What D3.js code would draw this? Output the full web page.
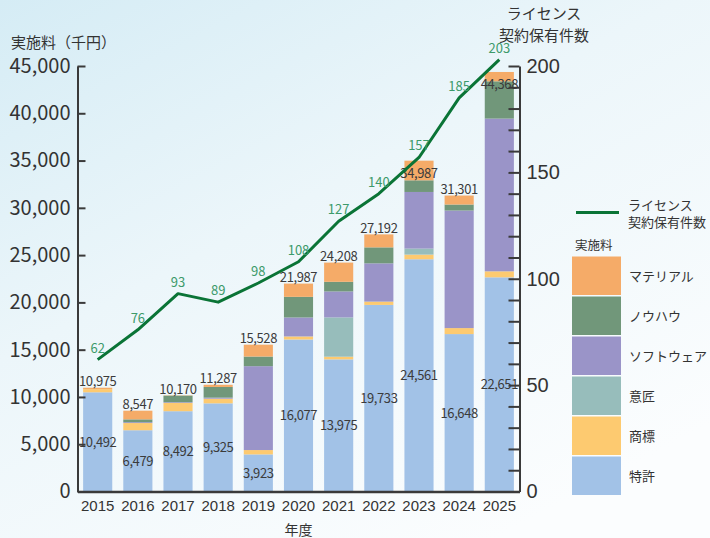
<!DOCTYPE html>
<html>
<head>
<meta charset="utf-8">
<script src="https://cdn.jsdelivr.net/npm/d3@7"></script>
<style>
  body { margin: 0; }
  svg { display: block; font-family: "Noto Sans CJK JP", "Noto Sans", sans-serif; }
</style>
</head>
<body>
<svg id="Chart"></svg>
<script>
const years = ["2015", "2016", "2017", "2018", "2019", "2020", "2021", "2022", "2023", "2024", "2025"];
const patent    = [10492, 6479, 8492, 9325, 3923, 16077, 13975, 19733, 24561, 16648, 22651];
const trademark = [330, 760, 880, 490, 460, 320, 280, 350, 493, 634, 634];
const design    = [0, 0, 0, 0, 0, 0, 4155, 0, 634, 0, 0];
const software  = [0, 90, 70, 110, 8870, 2007, 2746, 4046, 5990, 12434, 16153];
const knowhow   = [0, 300, 700, 1130, 1020, 2183, 1021, 1690, 1232, 634, 3944];
const material  = [153, 918, 28, 232, 1255, 1400, 2031, 1373, 2077, 951, 986];
const totals    = [10975, 8547, 10170, 11287, 15528, 21987, 24208, 27192, 34987, 31301, 44368];
const licenses  = [62, 76, 93, 89, 98, 108, 127, 140, 157, 185, 203];

const seriesNames = ["特許", "商標", "意匠", "ソフトウェア", "ノウハウ", "マテリアル"];
const seriesColors = ["#a2c2e7", "#fdca70", "#97bdbb", "#9a94c8", "#71977a", "#f5ab68"];
const leftTicks = [0, 5000, 10000, 15000, 20000, 25000, 30000, 35000, 40000, 45000];
const rightTicks = [0, 50, 100, 150, 200];

let store = {};

function getConfig() {
  let width = 710, height = 538;
  let left = 77.5, right = 519.5, top = 66, bottom = 491.5;
  let container = d3.select("#Chart").attr("width", width).attr("height", height);
  return { width, height, left, right, top, bottom, container };
}

function getScales(config) {
  let { left, right, top, bottom } = config;
  let xScale = d3.scaleBand().domain(years).range([left, right])
    .paddingInner(0.275).paddingOuter(0.14);
  let yScale = d3.scaleLinear().domain([0, 45000]).range([bottom, top]);
  let yRight = d3.scaleLinear().domain([0, 200]).range([bottom, top]);
  return { xScale, yScale, yRight };
}

function drawBackground(config) {
  let { container, width, height } = config;
  let grad = container.append("defs").append("linearGradient")
    .attr("id", "bg").attr("x1", 0).attr("y1", 0).attr("x2", 0.7).attr("y2", 1);
  grad.append("stop").attr("offset", 0).attr("stop-color", "#d5ecf5");
  grad.append("stop").attr("offset", 0.45).attr("stop-color", "#ecf6fa");
  grad.append("stop").attr("offset", 1).attr("stop-color", "#fbfdfe");
  container.append("rect").attr("width", width).attr("height", height).attr("fill", "url(#bg)");
}

function drawBars(scales, config) {
  let { xScale, yScale } = scales;
  let { container } = config;
  let rows = years.map((y, i) => ({
    year: y, 特許: patent[i], 商標: trademark[i], 意匠: design[i],
    ソフトウェア: software[i], ノウハウ: knowhow[i], マテリアル: material[i]
  }));
  let stacked = d3.stack().keys(seriesNames)(rows);

  let body = container.append("g");
  body.selectAll("g.series").data(stacked).enter()
    .append("g").attr("fill", (d, i) => seriesColors[i])
    .selectAll("rect").data(d => d).enter()
    .append("rect")
    .attr("x", d => xScale(d.data.year))
    .attr("width", xScale.bandwidth())
    .attr("y", d => yScale(d[1]))
    .attr("height", d => yScale(d[0]) - yScale(d[1]));

  // patent values inside the blue part
  body.selectAll(".plabel").data(years).enter()
    .append("text")
    .attr("x", d => xScale(d) + xScale.bandwidth() / 2)
    .attr("y", (d, i) => (yScale(0) + yScale(patent[i])) / 2 + 5)
    .attr("text-anchor", "middle")
    .attr("font-size", 13).attr("letter-spacing", -0.4)
    .attr("fill", "#3b3b3b")
    .text((d, i) => d3.format(",")(patent[i]));
}

function drawTotals(scales, config) {
  let { xScale, yScale, yRight } = scales;
  let { container } = config;
  container.append("g").selectAll("text").data(years).enter()
    .append("text")
    .attr("x", d => xScale(d) + xScale.bandwidth() / 2)
    .attr("y", (d, i) => {
      let t = yScale(totals[i]);
      // put the label inside when the licence line runs over it
      return (t - yRight(licenses[i]) < 16) ? t + 17 : t - 1.5;
    })
    .attr("text-anchor", "middle")
    .attr("font-size", 13).attr("letter-spacing", -0.4)
    .attr("fill", "#3b3b3b")
    .text((d, i) => d3.format(",")(totals[i]));
}

function drawLine(scales, config) {
  let { xScale, yRight } = scales;
  let { container } = config;
  let cx = d => xScale(d) + xScale.bandwidth() / 2;
  let line = d3.line().x(d => cx(d)).y((d, i) => yRight(licenses[i]));
  container.append("path").datum(years)
    .attr("d", line)
    .attr("fill", "none").attr("stroke", "#0a7436").attr("stroke-width", 3)
    .attr("stroke-linejoin", "round");
  container.append("g").selectAll("text").data(years).enter()
    .append("text")
    .attr("x", d => cx(d))
    .attr("y", (d, i) => yRight(licenses[i]) - 7)
    .attr("text-anchor", "middle")
    .attr("font-size", 13)
    .attr("fill", "#3c9a6a")
    .text((d, i) => licenses[i]);
}

function drawAxes(scales, config) {
  let { xScale, yScale, yRight } = scales;
  let { container, left, right, top, bottom } = config;
  let axisColor = "#3a3a3a";

  let axisL = d3.axisLeft(yScale).tickValues(leftTicks).tickFormat(d3.format(","))
    .tickSizeInner(-8).tickSizeOuter(0).tickPadding(7);
  let gL = container.append("g").attr("transform", `translate(${left},0)`).call(axisL);
  gL.select(".domain").attr("stroke", axisColor).attr("stroke-width", 2);
  gL.selectAll(".tick line").attr("stroke", axisColor).attr("stroke-width", 2);
  gL.selectAll(".tick text").attr("font-size", 20).attr("fill", "#333")
    .attr("font-family", "'Noto Sans CJK JP', sans-serif");

  let axisR = d3.axisRight(yRight).ticks(20).tickFormat(d => rightTicks.includes(d) ? d : "")
    .tickSizeInner(-11).tickSizeOuter(0).tickPadding(7);
  let gR = container.append("g").attr("transform", `translate(${right},0)`).call(axisR);
  gR.select(".domain").attr("stroke", axisColor).attr("stroke-width", 2);
  gR.selectAll(".tick line").attr("stroke", axisColor).attr("stroke-width", 2);
  gR.selectAll(".tick text").attr("font-size", 20).attr("fill", "#333");

  let axisX = d3.axisBottom(xScale).tickSize(0).tickPadding(9);
  let gX = container.append("g").attr("transform", `translate(0,${bottom})`).call(axisX);
  gX.select(".domain").attr("stroke", axisColor).attr("stroke-width", 2.5);
  gX.selectAll(".tick text").attr("font-size", 15).attr("fill", "#333");

  container.append("text").attr("x", (left + right) / 2).attr("y", 535)
    .attr("text-anchor", "middle").attr("font-size", 14).attr("fill", "#333").text("年度");
  container.append("text").attr("x", 11).attr("y", 48)
    .attr("font-size", 15).attr("fill", "#333").text("実施料（千円）");
  let rt = container.append("text").attr("text-anchor", "middle").attr("font-size", 15).attr("fill", "#333");
  rt.append("tspan").attr("x", 544).attr("y", 19).text("ライセンス");
  rt.append("tspan").attr("x", 544).attr("y", 41).text("契約保有件数");
}

function drawLegend(config) {
  let { container } = config;
  let g = container.append("g");
  g.append("line").attr("x1", 576).attr("x2", 619).attr("y1", 212.5).attr("y2", 212.5)
    .attr("stroke", "#0a7436").attr("stroke-width", 3);
  g.append("text").attr("x", 628).attr("y", 210).attr("font-size", 13).attr("fill", "#333").text("ライセンス");
  g.append("text").attr("x", 628).attr("y", 227).attr("font-size", 13).attr("fill", "#333").text("契約保有件数");
  g.append("text").attr("x", 575).attr("y", 250).attr("font-size", 12.5).attr("fill", "#333").text("実施料");

  let items = seriesNames.map((n, i) => ({ name: n, color: seriesColors[i] })).reverse();
  let rows = g.selectAll("g.item").data(items).enter().append("g")
    .attr("transform", (d, i) => `translate(572,${256.5 + i * 40})`);
  rows.append("rect").attr("width", 49).attr("height", 38.5).attr("fill", d => d.color);
  rows.append("text").attr("x", 57).attr("y", 24).attr("font-size", 13).attr("fill", "#333")
    .text(d => d.name);
}

function showData() {
  store.config = getConfig();
  store.scales = getScales(store.config);
  drawBackground(store.config);
  drawBars(store.scales, store.config);
  drawTotals(store.scales, store.config);
  drawLine(store.scales, store.config);
  drawAxes(store.scales, store.config);
  drawLegend(store.config);
}

showData();
</script>
</body>
</html>
